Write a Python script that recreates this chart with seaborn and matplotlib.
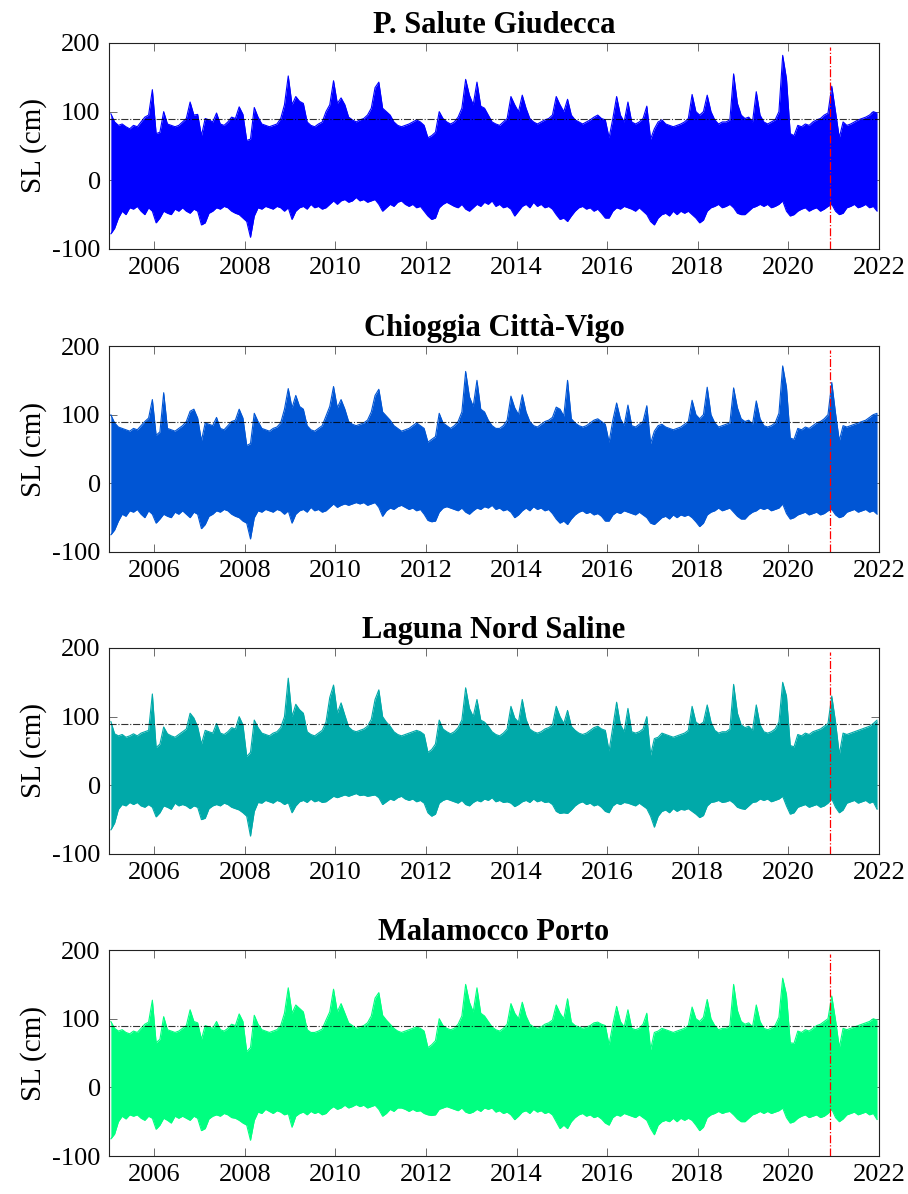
import numpy as np
import pandas as pd
import matplotlib
matplotlib.use("Agg")
import matplotlib.pyplot as plt
import seaborn as sns

# ==========================================
# DATA  (visual envelope of the hourly sea level, one value per month,
#        Jan 2005 ... Dec 2021, read off the reference)
# ==========================================

stations = ["P. Salute Giudecca", "Chioggia Città-Vigo",
            "Laguna Nord Saline", "Malamocco Porto"]
colors = ["#0000FF", "#0055D4", "#00A9A9", "#00FF80"]

year_ticks = [2006, 2008, 2010, 2012, 2014, 2016, 2018, 2020, 2022]
sl_ticks = [-100, 0, 100, 200]
threshold = 90          # cm, dash-dot reference level
split_year = 2020.91    # red dash-dot marker

salute_hi = [
    97, 85, 80, 82, 78, 75, 80, 78, 85, 92, 95, 132,
    68, 70, 100, 82, 80, 78, 80, 85, 90, 114, 95, 96,
    65, 90, 88, 85, 98, 82, 80, 85, 92, 90, 107, 96,
    58, 60, 106, 92, 82, 80, 78, 80, 82, 90, 110, 152,
    110, 122, 115, 112, 85, 80, 78, 82, 85, 100, 110, 145,
    112, 120, 110, 92, 88, 85, 88, 90, 95, 105, 135, 143,
    105, 100, 95, 85, 80, 78, 80, 82, 85, 88, 85, 80,
    62, 65, 70, 100, 90, 85, 82, 85, 92, 105, 147, 124,
    110, 143, 108, 105, 95, 85, 82, 80, 85, 90, 122, 110,
    100, 124, 105, 90, 85, 82, 85, 88, 90, 95, 122, 110,
    100, 118, 95, 88, 85, 82, 85, 88, 92, 95, 90, 88,
    62, 90, 122, 95, 85, 114, 85, 82, 85, 90, 108, 60,
    75, 85, 88, 82, 80, 78, 80, 82, 85, 90, 125, 100,
    95, 100, 124, 100, 88, 82, 85, 85, 88, 155, 112, 95,
    90, 92, 85, 129, 95, 85, 82, 85, 88, 100, 182, 148,
    68, 65, 80, 78, 82, 80, 85, 88, 90, 95, 98, 137,
    100, 62, 85, 80, 82, 85, 88, 90, 92, 95, 100, 98,
]
salute_lo = [
    -78, -70, -55, -45, -50, -40, -42, -38, -45, -50, -40, -45,
    -62, -55, -45, -48, -50, -42, -45, -40, -45, -48, -42, -45,
    -65, -62, -48, -45, -40, -42, -38, -40, -45, -48, -50, -55,
    -60, -83, -52, -40, -42, -38, -40, -42, -38, -40, -45, -40,
    -57, -45, -40, -38, -42, -35, -40, -38, -42, -40, -35, -30,
    -35, -30, -28, -32, -30, -25, -30, -28, -32, -30, -28, -35,
    -45, -40, -35, -38, -32, -30, -35, -38, -35, -40, -38, -45,
    -52, -57, -55, -40, -35, -32, -35, -38, -40, -35, -42, -45,
    -40, -35, -38, -32, -35, -30, -38, -35, -40, -38, -42, -52,
    -45, -38, -35, -40, -32, -38, -35, -40, -38, -42, -50, -57,
    -55, -60, -52, -45, -40, -38, -42, -40, -45, -42, -48, -55,
    -55, -45, -40, -42, -38, -40, -42, -45, -40, -45, -50, -60,
    -65, -55, -50, -48, -52, -45, -50, -45, -48, -45, -50, -55,
    -62, -58, -45, -40, -38, -35, -40, -38, -35, -40, -48, -50,
    -50, -45, -40, -38, -35, -38, -35, -40, -38, -35, -30, -45,
    -52, -50, -45, -42, -40, -45, -42, -40, -45, -42, -38, -35,
    -45, -50, -48, -40, -38, -35, -40, -38, -35, -40, -38, -45,
]

chioggia_hi = [
    100, 88, 82, 80, 78, 76, 80, 78, 84, 90, 95, 122,
    70, 75, 132, 80, 78, 76, 80, 84, 90, 105, 108, 95,
    62, 88, 86, 84, 96, 80, 78, 84, 90, 92, 108, 95,
    55, 58, 102, 90, 80, 78, 76, 80, 82, 88, 108, 138,
    110, 128, 112, 108, 84, 78, 76, 80, 84, 98, 112, 141,
    110, 122, 108, 90, 86, 84, 86, 88, 92, 104, 128, 137,
    104, 98, 92, 84, 80, 76, 78, 80, 84, 88, 84, 80,
    60, 64, 68, 102, 88, 84, 80, 84, 90, 104, 163, 126,
    112, 150, 108, 104, 92, 84, 80, 80, 84, 92, 127, 110,
    100, 129, 104, 90, 84, 82, 86, 90, 92, 96, 111, 108,
    98, 150, 94, 88, 84, 82, 84, 88, 92, 94, 90, 86,
    60, 92, 117, 94, 84, 114, 84, 82, 86, 90, 113, 58,
    76, 84, 86, 82, 80, 78, 80, 82, 86, 90, 121, 100,
    94, 100, 140, 100, 88, 82, 84, 86, 88, 139, 110, 94,
    90, 92, 86, 120, 94, 84, 82, 84, 88, 102, 171, 140,
    66, 64, 80, 78, 82, 80, 84, 88, 90, 94, 100, 147,
    102, 62, 84, 82, 84, 86, 88, 90, 92, 96, 100, 102,
]
chioggia_lo = [
    -75, -68, -55, -45, -48, -40, -42, -38, -45, -50, -40, -45,
    -58, -52, -45, -48, -50, -42, -45, -40, -45, -50, -42, -45,
    -66, -60, -48, -45, -40, -42, -38, -40, -45, -48, -50, -55,
    -58, -81, -50, -40, -42, -38, -40, -42, -38, -40, -45, -40,
    -58, -45, -40, -38, -42, -35, -40, -38, -42, -40, -35, -30,
    -35, -32, -30, -32, -30, -28, -30, -28, -32, -30, -28, -35,
    -48, -40, -36, -38, -34, -32, -35, -38, -36, -40, -38, -45,
    -54, -56, -55, -42, -36, -34, -36, -38, -40, -36, -42, -45,
    -40, -36, -38, -34, -36, -32, -38, -36, -40, -38, -42, -50,
    -46, -40, -36, -40, -34, -38, -36, -40, -38, -44, -52, -58,
    -55, -60, -52, -46, -42, -40, -44, -42, -46, -44, -48, -55,
    -55, -46, -42, -44, -40, -42, -44, -46, -42, -46, -50, -58,
    -60, -55, -50, -48, -52, -46, -50, -46, -48, -46, -50, -56,
    -63, -58, -46, -42, -40, -36, -40, -38, -36, -42, -48, -52,
    -52, -46, -42, -40, -36, -38, -36, -40, -38, -36, -30, -44,
    -52, -50, -46, -44, -42, -46, -44, -42, -46, -44, -40, -38,
    -46, -50, -48, -42, -40, -38, -42, -40, -38, -42, -40, -45,
]

saline_hi = [
    93, 75, 72, 74, 70, 72, 75, 72, 76, 78, 80, 133,
    55, 60, 85, 75, 72, 70, 74, 78, 82, 105, 98, 85,
    60, 80, 78, 76, 90, 76, 74, 78, 84, 82, 100, 88,
    42, 48, 95, 84, 76, 74, 72, 76, 78, 84, 100, 156,
    100, 118, 110, 105, 78, 74, 72, 76, 80, 92, 128, 146,
    105, 120, 102, 85, 80, 78, 80, 82, 86, 96, 125, 139,
    100, 92, 86, 78, 74, 72, 74, 76, 78, 80, 78, 74,
    48, 52, 60, 95, 82, 78, 75, 78, 84, 95, 142, 112,
    100, 125, 95, 92, 86, 78, 74, 72, 76, 82, 115, 98,
    92, 125, 96, 82, 78, 76, 78, 82, 84, 88, 115, 100,
    90, 109, 86, 80, 76, 74, 76, 80, 84, 86, 82, 80,
    50, 85, 121, 88, 78, 112, 78, 76, 78, 82, 100, 44,
    68, 70, 76, 74, 72, 70, 72, 74, 76, 80, 115, 92,
    88, 92, 117, 92, 80, 76, 78, 78, 82, 147, 105, 88,
    84, 86, 80, 117, 88, 78, 76, 78, 82, 92, 150, 130,
    58, 56, 74, 72, 76, 74, 78, 80, 82, 86, 90, 130,
    92, 45, 76, 74, 76, 78, 80, 82, 84, 86, 90, 95,
]
saline_lo = [
    -65, -55, -35, -28, -30, -25, -28, -25, -30, -32, -28, -32,
    -46, -40, -30, -32, -35, -26, -30, -28, -30, -34, -30, -32,
    -50, -48, -34, -30, -28, -30, -26, -28, -32, -34, -36, -40,
    -45, -74, -38, -25, -26, -22, -24, -26, -22, -24, -28, -25,
    -40, -30, -24, -22, -25, -20, -24, -22, -25, -24, -20, -16,
    -18, -16, -14, -16, -14, -12, -15, -14, -16, -15, -14, -18,
    -28, -24, -20, -22, -18, -16, -20, -22, -20, -24, -22, -26,
    -40, -45, -42, -26, -22, -20, -22, -24, -26, -22, -28, -30,
    -25, -22, -24, -20, -22, -18, -24, -22, -25, -24, -26, -31,
    -28, -24, -22, -25, -20, -24, -22, -25, -24, -28, -38, -41,
    -40, -41, -36, -30, -26, -24, -28, -26, -30, -28, -32, -38,
    -40, -30, -26, -28, -25, -26, -28, -30, -26, -30, -34, -45,
    -61, -45, -38, -36, -40, -34, -38, -35, -36, -34, -38, -42,
    -47, -44, -30, -25, -24, -22, -25, -24, -22, -26, -32, -34,
    -35, -30, -25, -24, -20, -22, -20, -24, -22, -20, -16, -30,
    -42, -40, -32, -30, -28, -32, -30, -28, -32, -30, -26, -20,
    -32, -40, -36, -26, -24, -22, -26, -24, -22, -26, -24, -35,
]

malamocco_hi = [
    96, 86, 82, 84, 80, 78, 82, 80, 86, 92, 95, 127,
    65, 70, 103, 84, 82, 80, 82, 86, 90, 113, 96, 94,
    70, 90, 88, 86, 96, 84, 82, 86, 92, 90, 107, 96,
    52, 58, 105, 92, 84, 82, 80, 82, 84, 90, 108, 145,
    108, 120, 115, 110, 84, 80, 80, 82, 85, 98, 110, 143,
    110, 122, 108, 94, 90, 86, 88, 90, 94, 104, 130, 138,
    105, 98, 92, 86, 82, 80, 82, 84, 86, 88, 86, 82,
    58, 62, 68, 100, 90, 86, 84, 86, 92, 104, 150, 124,
    110, 145, 108, 104, 96, 88, 84, 82, 86, 92, 122, 108,
    100, 124, 104, 92, 88, 86, 88, 92, 94, 98, 120, 108,
    100, 129, 95, 90, 88, 86, 88, 90, 94, 95, 92, 90,
    62, 92, 118, 96, 88, 113, 86, 84, 86, 92, 108, 55,
    80, 82, 86, 84, 82, 80, 82, 84, 86, 90, 117, 100,
    96, 102, 128, 100, 90, 84, 86, 86, 90, 150, 112, 96,
    92, 94, 88, 120, 96, 86, 84, 86, 90, 102, 159, 135,
    65, 64, 82, 80, 84, 82, 86, 90, 92, 96, 100, 133,
    98, 58, 86, 84, 86, 88, 90, 92, 94, 96, 100, 98,
]
malamocco_lo = [
    -75, -68, -50, -42, -46, -40, -42, -40, -45, -48, -42, -45,
    -61, -55, -45, -48, -52, -42, -45, -42, -45, -48, -42, -45,
    -63, -60, -46, -42, -40, -42, -38, -40, -44, -45, -48, -52,
    -55, -77, -48, -36, -38, -32, -35, -38, -34, -36, -40, -38,
    -58, -42, -38, -36, -40, -35, -38, -36, -40, -38, -32, -28,
    -32, -30, -26, -30, -28, -25, -28, -26, -30, -28, -26, -32,
    -42, -38, -32, -35, -30, -30, -32, -35, -32, -35, -34, -38,
    -40, -41, -40, -32, -30, -28, -30, -32, -34, -30, -36, -38,
    -36, -32, -35, -30, -32, -30, -36, -34, -38, -36, -40, -47,
    -42, -36, -34, -38, -32, -36, -34, -38, -36, -40, -50, -60,
    -55, -60, -50, -44, -40, -38, -42, -40, -44, -42, -46, -52,
    -55, -44, -40, -42, -38, -40, -42, -44, -40, -44, -48, -60,
    -69, -55, -50, -48, -50, -45, -50, -45, -48, -45, -48, -55,
    -63, -58, -44, -40, -38, -35, -38, -36, -35, -40, -46, -50,
    -50, -45, -40, -38, -35, -38, -35, -38, -36, -34, -30, -44,
    -52, -50, -45, -42, -40, -44, -42, -40, -44, -42, -38, -32,
    -44, -50, -46, -40, -38, -36, -40, -38, -36, -40, -38, -47,
]

highs = [salute_hi, chioggia_hi, saline_hi, malamocco_hi]
lows = [salute_lo, chioggia_lo, saline_lo, malamocco_lo]

# month centres as decimal years
months = 2005 + (np.arange(len(salute_hi)) + 0.5) / 12

# ==========================================
# STYLE
# ==========================================

sns.set_style("ticks")
plt.rcParams["font.family"] = ["Liberation Serif", "DejaVu Serif"]
plt.rcParams["axes.unicode_minus"] = False
plt.rcParams["text.color"] = "black"
plt.rcParams["axes.labelcolor"] = "black"
plt.rcParams["xtick.color"] = "black"
plt.rcParams["ytick.color"] = "black"
plt.rcParams["axes.edgecolor"] = "#222222"
plt.rcParams["xtick.direction"] = "in"
plt.rcParams["ytick.direction"] = "in"
plt.rcParams["xtick.top"] = True
plt.rcParams["ytick.right"] = True
plt.rcParams["axes.linewidth"] = 0.8

fig = plt.figure(figsize=(9.08, 11.94), dpi=100)

left, width, height = 0.120, 0.848, 0.1725
bottoms = [0.7915, 0.5377, 0.2848, 0.0318]

# ==========================================
# PANELS
# ==========================================

for name, color, hi, lo, bottom in zip(stations, colors, highs, lows, bottoms):
    ax = fig.add_axes([left, bottom, width, height])

    df = pd.DataFrame({"year": months, "hi": hi, "lo": lo})

    ax.fill_between(df["year"], df["lo"], df["hi"], color=color, lw=0)
    sns.lineplot(data=df, x="year", y="hi", color=color, lw=0.8, ax=ax)
    sns.lineplot(data=df, x="year", y="lo", color=color, lw=0.8, ax=ax)

    ax.axhline(threshold, color="black", ls="-.", lw=0.8, alpha=0.8)
    ax.axvline(split_year, ymax=0.98, color="red", ls="-.", lw=0.9)

    ax.set_xlim(2005, 2022)
    ax.set_ylim(-100, 200)
    ax.set_xticks(year_ticks)
    ax.set_yticks(sl_ticks)
    ax.tick_params(axis="both", labelsize=19, length=5.5, width=0.5,
                   color="#333333", pad=6)

    ax.set_xlabel("")
    ax.set_ylabel("SL (cm)", fontsize=21, labelpad=4)
    ax.set_title(name, fontsize=22, fontweight="bold", pad=7)

plt.savefig("out.png", dpi=100)
